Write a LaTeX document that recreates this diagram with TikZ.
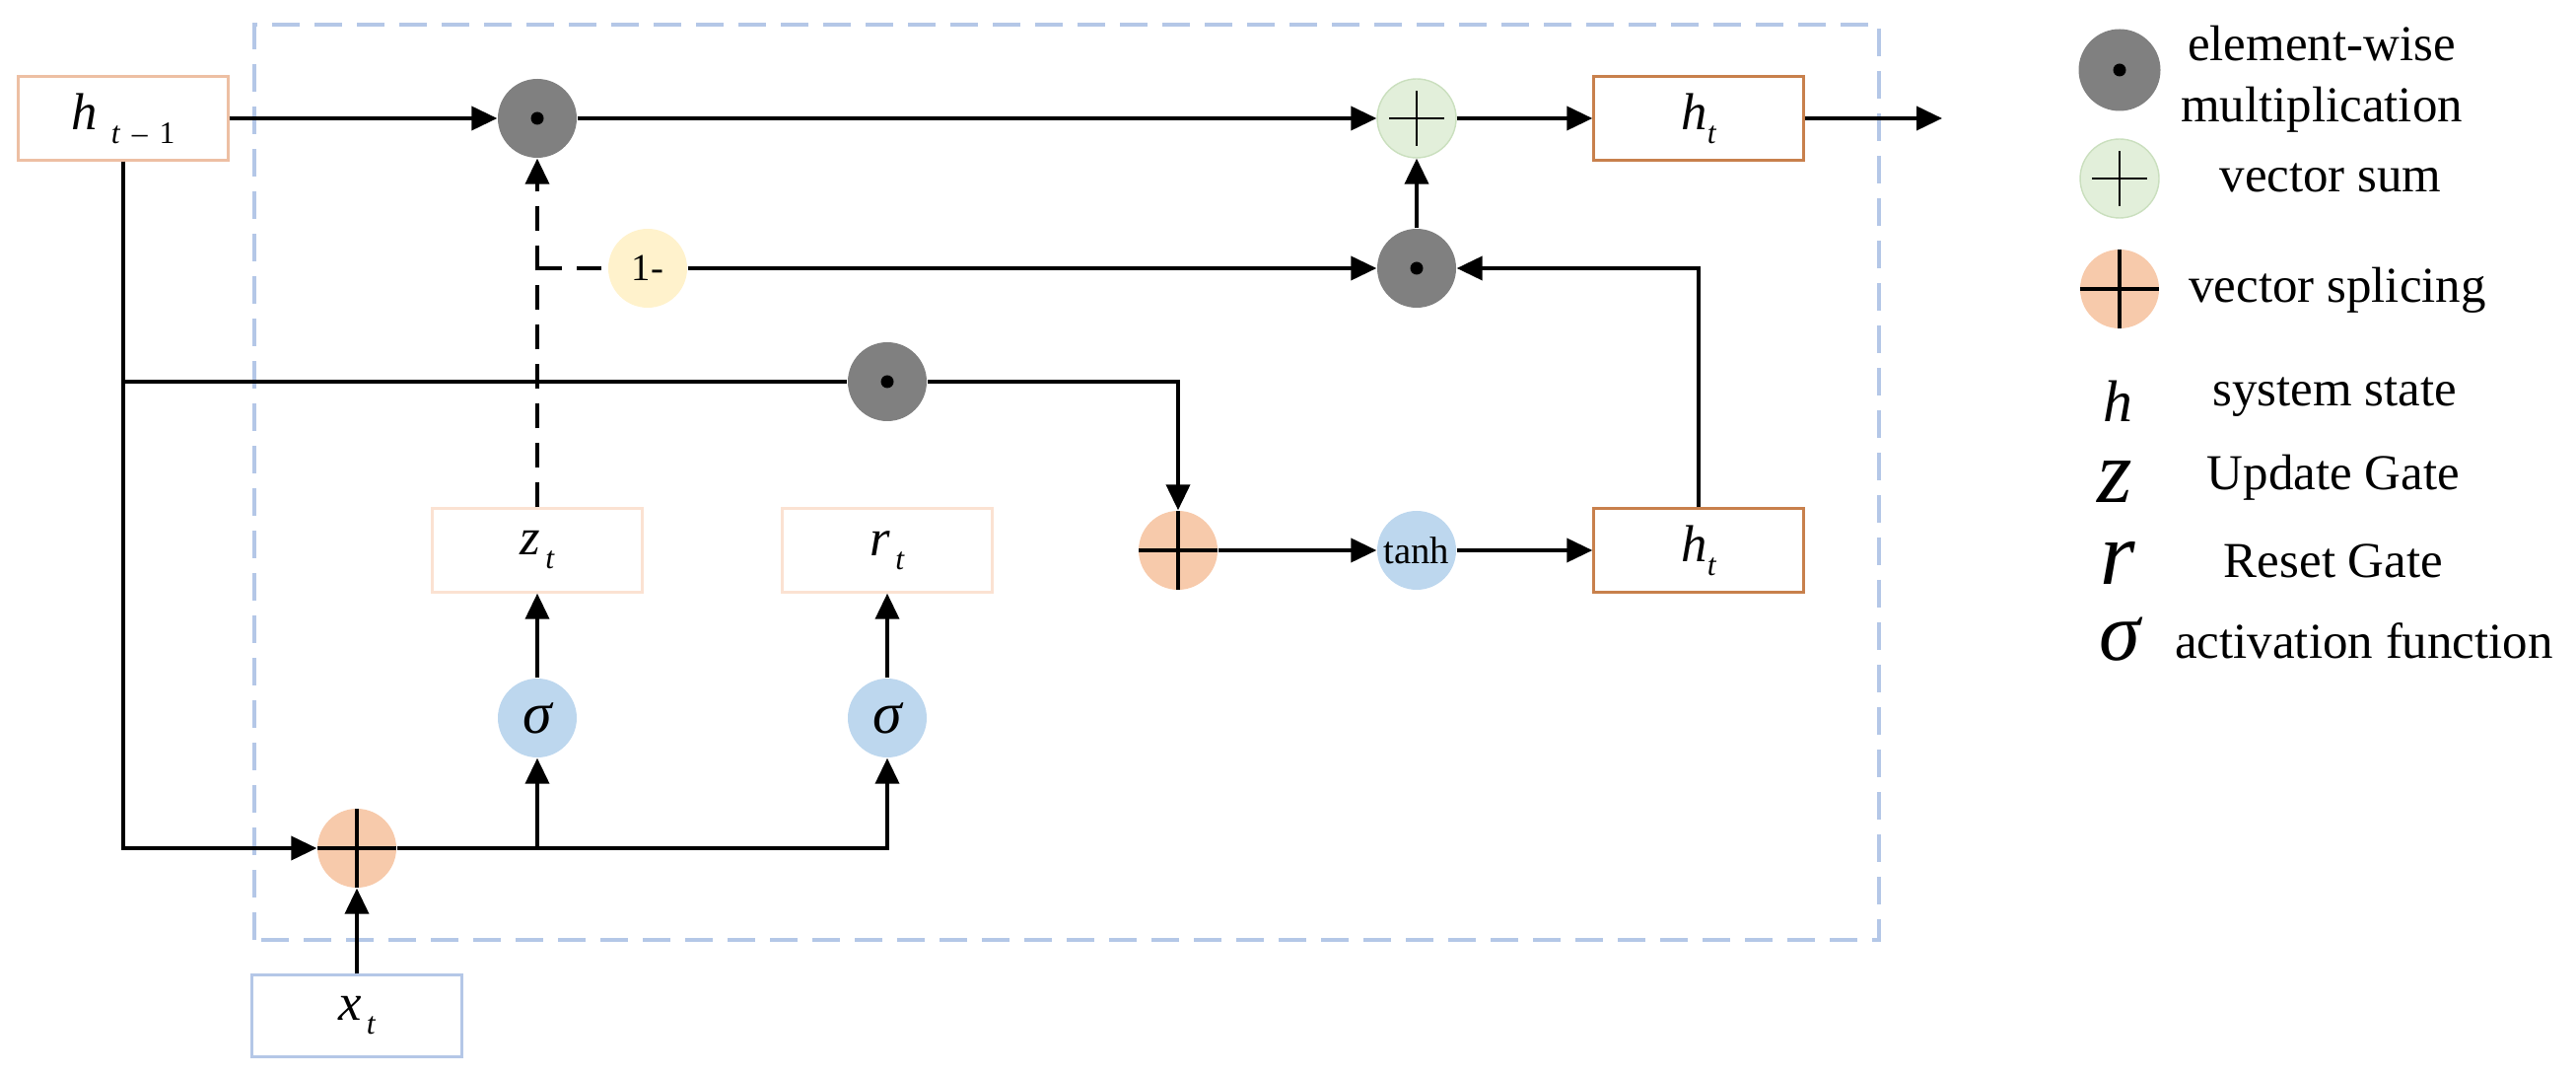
\documentclass[tikz,border=0pt]{standalone}
\usepackage{fontspec}
\setmainfont{Liberation Serif}
\usetikzlibrary{arrows.meta}

\definecolor{opgray}{HTML}{808080}
\definecolor{sumgreen}{HTML}{E2EFDA}
\definecolor{sumgreenline}{HTML}{CADFBE}
\definecolor{catorange}{HTML}{F7CAAB}
\definecolor{actblue}{HTML}{BDD7EE}
\definecolor{oneyellow}{HTML}{FFF2CC}
\definecolor{frameblue}{HTML}{B4C7E7}
\definecolor{peach}{HTML}{EDBFA3}
\definecolor{lightpeach}{HTML}{FBE2D2}
\definecolor{rust}{HTML}{C8804C}

\newcommand{\lowsub}[1]{\raisebox{-4pt}{\fontsize{9}{9}\selectfont #1}}

\tikzset{
    statebox/.style={draw, line width=0.7pt, minimum width=2.13cm, minimum height=0.85cm, inner sep=0pt, font=\fontsize{15}{15}\selectfont\itshape},
    mulop/.style={circle, fill=opgray, minimum size=0.8cm, inner sep=0pt,
        path picture={\fill[black] (path picture bounding box.center) circle (0.065);}},
    sumop/.style={circle, fill=sumgreen, draw=sumgreenline, line width=0.4pt, minimum size=0.8cm, inner sep=0pt,
        path picture={
            \draw[black, line width=0.6pt] ([xshift=-0.28cm]path picture bounding box.center) -- ([xshift=0.28cm]path picture bounding box.center);
            \draw[black, line width=0.6pt] ([yshift=-0.28cm]path picture bounding box.center) -- ([yshift=0.28cm]path picture bounding box.center);}},
    catop/.style={circle, fill=catorange, minimum size=0.8cm, inner sep=0pt,
        path picture={
            \draw[black, line width=1.4pt] ([xshift=-0.4cm]path picture bounding box.center) -- ([xshift=0.4cm]path picture bounding box.center);
            \draw[black, line width=1.4pt] ([yshift=-0.4cm]path picture bounding box.center) -- ([yshift=0.4cm]path picture bounding box.center);}},
    actop/.style={circle, fill=actblue, minimum size=0.8cm, inner sep=0pt},
    flow/.style={line width=1.1pt, -{Triangle[length=2.6mm, width=2.4mm]}},
    wire/.style={line width=1.1pt},
    dashwire/.style={dash pattern=on 2.5mm off 1.5mm},
    legtext/.style={font=\fontsize{14.5}{17.6}\selectfont, align=center},
}

\begin{document}
\begin{tikzpicture}
    \useasboundingbox (0,0) rectangle (26.13,10.91);

    % cell border
    \draw[frameblue, line width=0.9pt, dash pattern=on 2.8mm off 1.5mm] (2.58,1.38) rectangle (19.06,10.66);

    % states and gates
    \node[statebox, draw=peach] (hprev) at (1.25,9.71) {h\hspace{1.4mm}\lowsub{t\hspace{1.2mm}\upshape –\hspace{1.2mm}1}};
    \node[statebox, draw=rust] (hout) at (17.23,9.71) {h\lowsub{t}};
    \node[statebox, draw=lightpeach] (zbox) at (5.45,5.33) {z\hspace{0.5mm}\lowsub{t}};
    \node[statebox, draw=lightpeach] (rbox) at (9.00,5.33) {r\hspace{0.5mm}\lowsub{t}};
    \node[statebox, draw=rust] (hcand) at (17.23,5.33) {h\lowsub{t}};
    \node[statebox, draw=frameblue, minimum height=0.83cm] (xin) at (3.62,0.61) {x\hspace{0.5mm}\lowsub{t}};

    % operators
    \node[mulop] (mulz) at (5.45,9.71) {};
    \node[sumop] (sumout) at (14.37,9.71) {};
    \node[circle, fill=oneyellow, minimum size=0.8cm, inner sep=0pt, font=\fontsize{11}{11}\selectfont] (onem) at (6.57,8.19) {1-};
    \node[mulop] (mulh) at (14.37,8.19) {};
    \node[mulop] (mulr) at (9.00,7.04) {};
    \node[catop] (catmid) at (11.95,5.33) {};
    \node[actop, font=\fontsize{11}{11}\selectfont] (tanh) at (14.37,5.33) {tanh};
    \node[actop, font=\fontsize{17}{17}\selectfont\itshape] (sigz) at (5.45,3.63) {σ};
    \node[actop, font=\fontsize{17}{17}\selectfont\itshape] (sigr) at (9.00,3.63) {σ};
    \node[catop] (catin) at (3.62,2.31) {};

    \coordinate (outend) at (19.70,9.71);
    \coordinate (zturn) at (5.45,8.19);
    \coordinate (rsplit) at (1.25,7.04);
    \coordinate (zsplit) at (5.45,2.31);

    % connections
    \draw[flow] (hprev) -- (mulz);
    \draw[flow] (mulz) -- (sumout);
    \draw[flow] (sumout) -- (hout);
    \draw[flow] (hout) -- (outend);
    \draw[flow, dashwire] (zbox) -- (mulz);
    \draw[wire, dashwire] (zturn) -- (onem);
    \draw[flow] (onem) -- (mulh);
    \draw[flow] (mulh) -- (sumout);
    \draw[flow] (hcand) |- (mulh);
    \draw[flow] (hprev) |- (catin);
    \draw[wire] (rsplit) -- (mulr);
    \draw[flow] (mulr) -| (catmid);
    \draw[flow] (catmid) -- (tanh);
    \draw[flow] (tanh) -- (hcand);
    \draw[flow] (xin) -- (catin);
    \draw[flow] (catin) -| (sigr);
    \draw[flow] (zsplit) -- (sigz);
    \draw[flow] (sigz) -- (zbox);
    \draw[flow] (sigr) -- (rbox);

    % Legend
    \node[mulop, minimum size=0.83cm] (legmul) at (21.50,10.20) {};
    \node[sumop] (legsum) at (21.50,9.10) {};
    \node[catop] (legcat) at (21.50,7.98) {};
    \node[anchor=base, inner sep=0pt, font=\fontsize{17}{17}\selectfont\itshape] (legh) at (21.48,6.63) {h};
    \node[anchor=base, inner sep=0pt, font=\fontsize{26}{26}\selectfont\itshape] (legz) at (21.45,5.81) {z};
    \node[anchor=base, inner sep=0pt, font=\fontsize{26}{26}\selectfont\itshape] (legr) at (21.48,4.98) {r};
    \node[anchor=base, inner sep=0pt, font=\fontsize{24}{24}\selectfont\itshape] (legsig) at (21.50,4.21) {σ};

    \node[legtext] at (23.55,10.11) {element-wise\\multiplication};
    \node[legtext, anchor=base] at (23.64,8.96) {vector sum};
    \node[legtext, anchor=base] at (23.71,7.84) {vector splicing};
    \node[legtext, anchor=base] at (23.68,6.79) {system state};
    \node[legtext, anchor=base] at (23.67,5.94) {Update Gate};
    \node[legtext, anchor=base] at (23.67,5.05) {Reset Gate};
    \node[legtext, anchor=base] at (23.98,4.23) {activation function};
\end{tikzpicture}
\end{document}
